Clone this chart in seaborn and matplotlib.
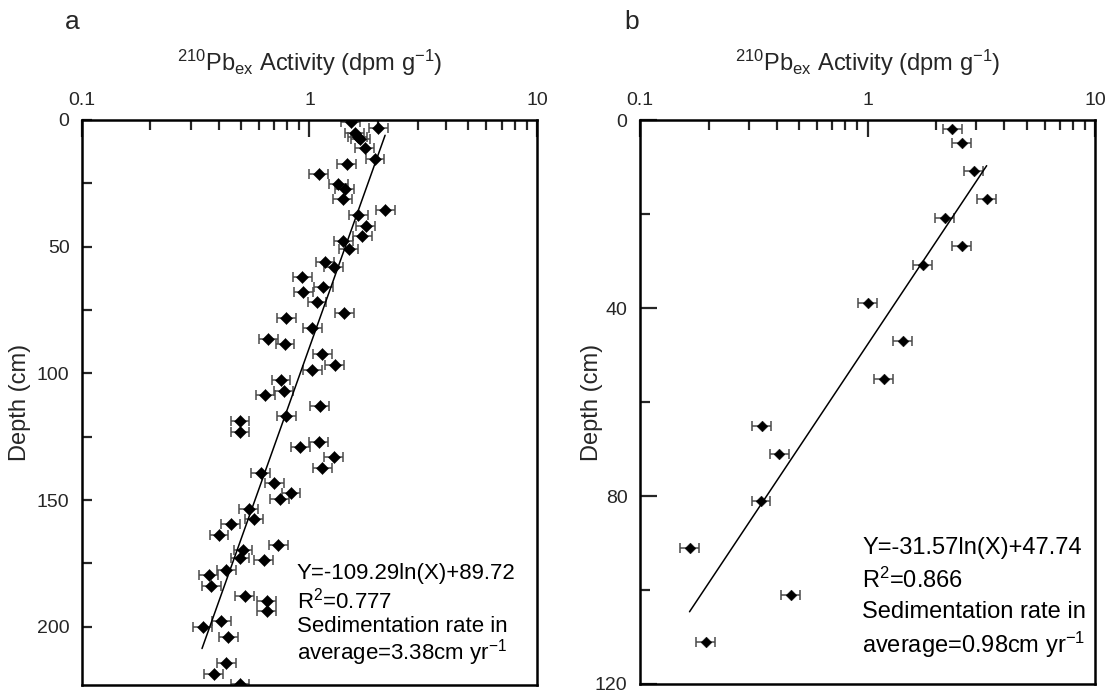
import numpy as np
import pandas as pd
import matplotlib
matplotlib.use("Agg")
import matplotlib.pyplot as plt
from matplotlib.ticker import FixedLocator, NullFormatter, FixedFormatter
import seaborn as sns

# ---- Core A: excess 210Pb activity (dpm/g) versus depth (cm) ----
depth_a = [1.0, 3.0, 5.3, 6.6, 7.4, 11.2, 15.4, 17.4, 21.5, 25.4, 27.4, 31.4,
           35.5, 37.6, 41.7, 45.7, 47.8, 51.0, 56.0, 57.9, 61.9, 66.0, 68.1,
           72.0, 76.1, 78.2, 82.3, 86.4, 88.3, 92.4, 96.6, 98.7, 102.7, 106.8,
           108.7, 113.0, 116.9, 118.9, 123.1, 127.2, 129.1, 133.1, 137.2,
           139.2, 143.2, 147.3, 149.4, 153.4, 157.3, 159.6, 163.6, 167.6,
           169.6, 172.8, 173.8, 177.7, 179.7, 183.8, 187.8, 189.8, 193.9,
           197.9, 200.1, 204.0, 214.3, 218.5, 222.5]
activity_a = [1.52, 2.01, 1.58, 1.63, 1.67, 1.75, 1.94, 1.46, 1.10, 1.34, 1.43,
              1.40, 2.15, 1.64, 1.77, 1.71, 1.41, 1.49, 1.17, 1.28, 0.93, 1.15,
              0.94, 1.08, 1.42, 0.79, 1.03, 0.66, 0.78, 1.14, 1.29, 1.03, 0.75,
              0.77, 0.64, 1.11, 0.79, 0.495, 0.495, 1.10, 0.91, 1.28, 1.14,
              0.61, 0.70, 0.83, 0.74, 0.54, 0.57, 0.45, 0.40, 0.73, 0.51,
              0.495, 0.63, 0.43, 0.36, 0.37, 0.52, 0.65, 0.65, 0.41, 0.34,
              0.44, 0.43, 0.38, 0.495]

# ---- Core B ----
depth_b = [1.9, 4.8, 10.8, 16.8, 20.9, 26.8, 30.9, 38.9, 47.0, 55.1, 65.1,
           71.1, 81.1, 91.1, 101.1, 111.1]
activity_b = [2.36, 2.59, 2.93, 3.34, 2.18, 2.59, 1.75, 1.00, 1.43, 1.18,
              0.342, 0.41, 0.340, 0.165, 0.46, 0.194]

# relative analytical uncertainty of the activity measurements
rel_err = 0.10

# log-fit parameters: depth = slope * ln(activity) + intercept
fit_a = {"slope": -109.29, "intercept": 89.72, "r2": 0.777, "rate": 3.38,
         "xmin": 0.337, "xmax": 2.15}
fit_b = {"slope": -31.57, "intercept": 47.74, "r2": 0.866, "rate": 0.98,
         "xmin": 0.165, "xmax": 3.34}

sns.set_theme(style="white")
plt.rcParams["font.family"] = ["Liberation Sans", "DejaVu Sans"]
plt.rcParams["mathtext.fontset"] = "custom"
plt.rcParams["mathtext.rm"] = "Liberation Sans"
plt.rcParams["mathtext.it"] = "Liberation Sans:italic"
plt.rcParams["mathtext.bf"] = "Liberation Sans:bold"

fig = plt.figure(figsize=(11.11, 6.90), dpi=100)
ax_a = fig.add_axes([0.0738, 0.0072, 0.4095, 0.819])
ax_b = fig.add_axes([0.5761, 0.0087, 0.4095, 0.817])

xlabel = r"$^{210}$Pb$_{\rm ex}$ Activity (dpm g$^{-1}$)"


def draw_core(ax, depth, activity, fit, ymax, major_y, minor_y, msize,
              text_x, text_ys, text_size, ytick_len, ylabel_pad):
    df = pd.DataFrame({"depth": depth, "activity": activity})
    x = df["activity"].to_numpy()
    lo = x - x / (1 + rel_err)
    hi = x * (1 + rel_err) - x
    ax.errorbar(x, df["depth"], xerr=[lo, hi], fmt="none", ecolor="#4a4a4a",
                elinewidth=1.1, capsize=3.5, capthick=1.1, zorder=2)
    sns.scatterplot(data=df, x="activity", y="depth", marker="D",
                    color="black", s=msize, edgecolor="black", linewidth=0.3,
                    ax=ax, zorder=3, legend=False)
    xf = np.geomspace(fit["xmin"], fit["xmax"], 60)
    yf = fit["slope"] * np.log(xf) + fit["intercept"]
    sns.lineplot(x=xf, y=yf, color="black", linewidth=1.1, ax=ax,
                 sort=False, estimator=None, zorder=2)

    ax.set_xscale("log")
    ax.set_xlim(0.1, 10)
    ax.set_ylim(ymax, 0)
    ax.xaxis.set_ticks_position("top")
    ax.xaxis.set_label_position("top")
    ax.xaxis.set_major_locator(FixedLocator([0.1, 1, 10]))
    ax.xaxis.set_major_formatter(FixedFormatter(["0.1", "1", "10"]))
    minors = [m * d for d in (0.1, 1) for m in range(2, 10)]
    ax.xaxis.set_minor_locator(FixedLocator(minors))
    ax.xaxis.set_minor_formatter(NullFormatter())
    ax.yaxis.set_major_locator(FixedLocator(major_y))
    ax.yaxis.set_minor_locator(FixedLocator(minor_y))
    ax.tick_params(axis="x", which="major", direction="in", length=12,
                   width=1.6, labelsize=14, pad=8, top=True, bottom=False)
    ax.tick_params(axis="x", which="minor", direction="in", length=7,
                   width=1.6, top=True, bottom=False)
    ax.tick_params(axis="y", which="major", direction="in", length=ytick_len[0],
                   width=1.6, labelsize=14, pad=9, left=True, right=False)
    ax.tick_params(axis="y", which="minor", direction="in", length=ytick_len[1],
                   width=1.6, left=True, right=False)
    for sp in ax.spines.values():
        sp.set_visible(True)
        sp.set_color("black")
        sp.set_linewidth(1.8)
    ax.set_xlabel(xlabel, fontsize=17, labelpad=15)
    ax.set_ylabel("Depth (cm)", fontsize=17, labelpad=ylabel_pad)
    ax.grid(False)

    lines = [f"Y={fit['slope']:.2f}ln(X)+{fit['intercept']:.2f}",
             f"R$^2$={fit['r2']:.3f}",
             "Sedimentation rate in",
             f"average={fit['rate']:.2f}cm yr$^{{-1}}$"]
    for line, ty in zip(lines, text_ys):
        ax.text(text_x, ty, line, transform=ax.transAxes, fontsize=text_size,
                ha="left", va="center", color="black")


draw_core(ax_a, depth_a, activity_a, fit_a, 223,
          [0, 50, 100, 150, 200], [25, 75, 125, 175], 38,
          0.4725, [0.198, 0.150, 0.103, 0.057], 16, (7, 7), 4)
draw_core(ax_b, depth_b, activity_b, fit_b, 120,
          [0, 40, 80, 120], [20, 60, 100], 30,
          0.488, [0.241, 0.184, 0.128, 0.069], 17, (12, 7), -6)

fig.text(72 / 1111, 1 - 22 / 690, "a", fontsize=19, ha="center", va="center")
fig.text(632 / 1111, 1 - 22 / 690, "b", fontsize=19, ha="center", va="center")

fig.savefig("out.png", dpi=100, facecolor="white")
